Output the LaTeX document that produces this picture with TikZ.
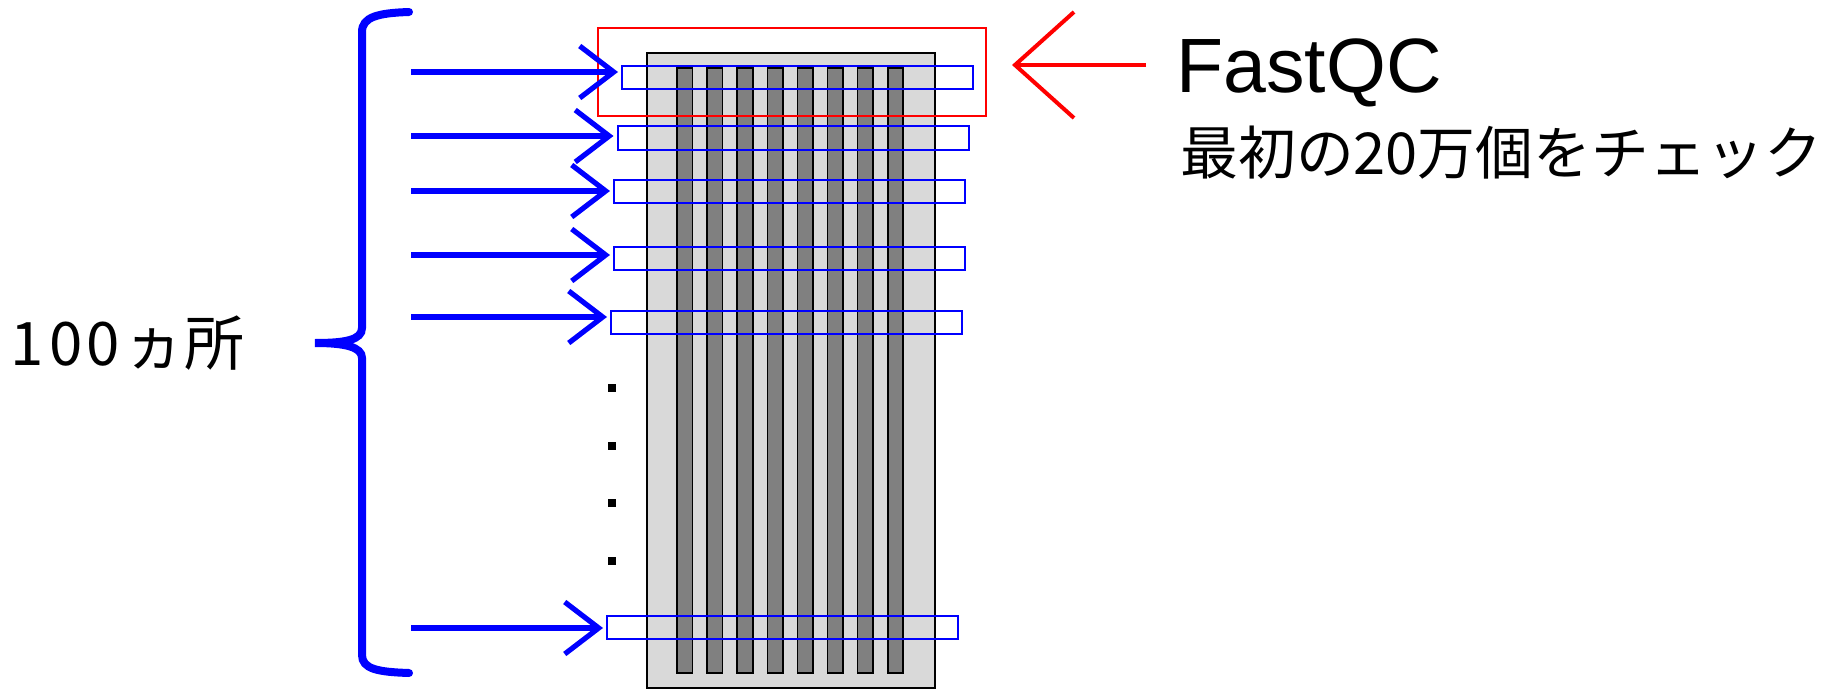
\documentclass[tikz,border=0pt]{standalone}
\usepackage{fontspec}
\newfontfamily\jpfont{Noto Sans CJK JP}
\newfontfamily\latfont{Liberation Sans}
\usetikzlibrary{arrows.meta}
\definecolor{boardgray}{HTML}{D9D9D9}
\definecolor{bargray}{HTML}{808080}
\begin{document}
\begin{tikzpicture}[x=0.5pt,y=-0.5pt,
  board/.style={draw=black, line width=0.8pt, fill=boardgray, inner sep=0pt,
    minimum width=144pt, minimum height=317.5pt},
  lane/.style={draw=black, line width=0.8pt, fill=bargray, inner sep=0pt,
    minimum width=7.75pt, minimum height=302.5pt},
  region/.style={draw=blue, line width=1pt, inner sep=0pt,
    minimum width=175.5pt, minimum height=11.75pt},
  focus/.style={draw=red, line width=1pt, inner sep=0pt,
    minimum width=194.2pt, minimum height=44pt},
  bluearrow/.style={draw=blue, line width=2.6pt, shorten >=1.5pt,
    -{Straight Barb[length=17pt,width=26pt]}},
  redarrow/.style={draw=red, line width=2pt, shorten >=12.5pt,
    -{Straight Barb[length=29.5pt,width=53pt]}},
  brace/.style={draw=blue, line width=4pt, line cap=round},
  dotmark/.style={fill=black},
  bigtext/.style={inner sep=0pt, text=black}
]
\useasboundingbox (0,0) rectangle (1826,690);
% board and lanes
\node[board] (board) at (791,370.5) {};
\foreach \i in {0,...,7}{
  \node[lane] (lane\i) at ({684.75+30.1*\i},370.5) {};
}
% regions
\node[region] (r1) at (797.5,77.5) {};
\node[region] (r2) at (793,138) {};
\node[region] (r3) at (789.5,191.5) {};
\node[region] (r4) at (789.5,258.5) {};
\node[region] (r5) at (786.5,322.5) {};
\node[region] (r6) at (782.5,627.5) {};
% red focus box
\node[focus] (rf) at (791.8,72) {};
% arrow starts
\coordinate (s1) at (411,72);
\coordinate (s2) at (411,136);
\coordinate (s3) at (411,191);
\coordinate (s4) at (411,255);
\coordinate (s5) at (411,317);
\coordinate (s6) at (411,628);
\foreach \k in {1,...,6}{
  \draw[bluearrow] (s\k) -- (s\k -| r\k.west);
}
% dots
\foreach \yy in {388,446,503,561}{
  \fill[dotmark] (608,\yy-4) rectangle (616,\yy+4);
}
% brace
\draw[brace] (409,12) .. controls (378,13) and (362,17) .. (362,32)
  -- (362,328) .. controls (362,340) and (345,343) .. (315,343)
  .. controls (345,343) and (362,347) .. (362,358)
  -- (362,655) .. controls (362,669) and (378,672) .. (409,673);
% label left
\node[bigtext, anchor=west] (count) at (10,343) {\jpfont\fontsize{30}{34}\selectfont 1\kern3pt0\kern2pt0\kern2ptヵ所};
% red arrow
\coordinate (rs) at (1146,65);
\draw[redarrow] (rs) -- (rs -| rf.east);
% texts right
\node[bigtext, anchor=base west] (fq) at (1176,93) {\latfont\fontsize{38.5}{42}\selectfont FastQC};
\node[bigtext, anchor=base west] (chk) at (1180,175) {\jpfont\fontsize{28.9}{34}\selectfont 最初の20万個をチェック};
\end{tikzpicture}
\end{document}
